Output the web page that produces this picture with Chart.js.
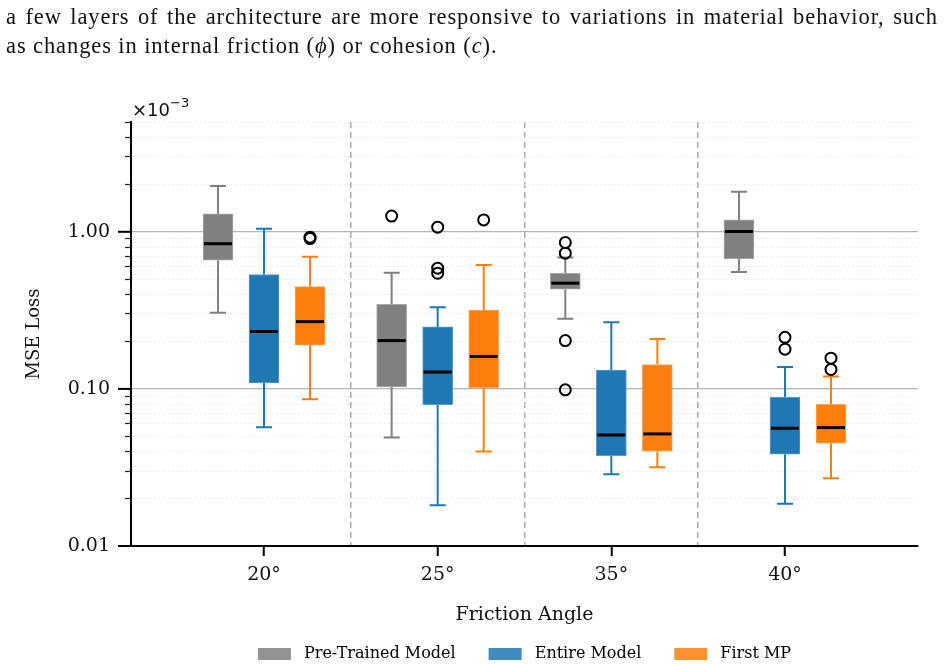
<!DOCTYPE html>
<html>
<head>
<meta charset="utf-8">
<script src="https://cdn.jsdelivr.net/npm/chart.js@4.4.1/dist/chart.umd.min.js"></script>
<style>
  html, body { margin: 0; padding: 0; background: #fff; overflow: hidden; }
  #wrap { position: relative; width: 944px; height: 664px; overflow: hidden; }
  #chart { position: absolute; left: 0; top: 0; }
  #para {
    position: absolute; left: 6px; top: 2px; width: 932px;
    font-family: "Liberation Serif", serif; font-size: 22.5px; line-height: 29px;
    letter-spacing: 0.9px; color: #111; white-space: nowrap;
  }
  .l1 { text-align: justify; text-align-last: justify; }
</style>
</head>
<body>
<div id="wrap">
  <canvas id="chart" width="944" height="672" style="width:944px;height:672px"></canvas>
  <div id="para">
    <div class="l1">a few layers of the architecture are more responsive to variations in material behavior, such</div>
    <div>as changes in internal friction (<i>ϕ</i>) or cohesion (<i>c</i>).</div>
  </div>
</div>
<script>
// friction angles on the x axis
const categories = ["20°", "25°", "35°", "40°"];
const modelNames = ["Pre-Trained Model", "Entire Model", "First MP"];

// MSE loss (×10^-3), one value per friction angle
const preLow  = [0.305, 0.049, 0.28, 0.554];
const preQ1   = [0.66, 0.103, 0.431, 0.673];
const preMed  = [0.84, 0.203, 0.471, 1.005];
const preQ3   = [1.30, 0.346, 0.545, 1.19];
const preHigh = [1.96, 0.548, 0.686, 1.80];
const preOut  = [[], [1.26], [0.855, 0.731, 0.203, 0.0986], []];

const entLow  = [0.057, 0.0182, 0.0286, 0.0186];
const entQ1   = [0.109, 0.0794, 0.0376, 0.0384];
const entMed  = [0.232, 0.128, 0.0509, 0.0562];
const entQ3   = [0.535, 0.248, 0.132, 0.0885];
const entHigh = [1.045, 0.331, 0.266, 0.138];
const entOut  = [[], [1.07, 0.587, 0.545], [], [0.213, 0.179]];

const mpLow  = [0.086, 0.0399, 0.0317, 0.027];
const mpQ1   = [0.19, 0.102, 0.0401, 0.0451];
const mpMed  = [0.268, 0.161, 0.0517, 0.0567];
const mpQ3   = [0.448, 0.317, 0.143, 0.0798];
const mpHigh = [0.693, 0.614, 0.208, 0.12];
const mpOut  = [[0.925, 0.905], [1.19], [], [0.157, 0.133]];

// y axis ticks
const yTickValues = [0.01, 0.02, 0.03, 0.04, 0.05, 0.06, 0.07, 0.08, 0.09,
                     0.1, 0.2, 0.3, 0.4, 0.5, 0.6, 0.7, 0.8, 0.9, 1, 2, 3, 4, 5];
const yMajorTicks = [0.01, 0.1, 1];
const yMajorLabels = ["0.01", "0.10", "1.00"];

const offsets = [-0.265, 0, 0.265];
const fills = ["#808080", "#1f77b4", "#ff7f0e"];
const edges = ["#a8a8a8", "#5a9bcb", "#ffa65a"];
const legendFills = ["#939393", "#408bbf", "#ff9232"];

const stats = [
  { low: preLow, q1: preQ1, med: preMed, q3: preQ3, high: preHigh, out: preOut },
  { low: entLow, q1: entQ1, med: entMed, q3: entQ3, high: entHigh, out: entOut },
  { low: mpLow, q1: mpQ1, med: mpMed, q3: mpQ3, high: mpHigh, out: mpOut }
];

const majorIndex = v => yMajorTicks.findIndex(m => Math.abs(m - v) < 1e-9);
const isHalf = v => v !== undefined && Math.abs(v - Math.round(v)) > 0.1;

const datasets = [];

stats.forEach((s, m) => {
  datasets.push({
    type: "bar",
    label: modelNames[m],
    data: categories.map((c, i) => ({ x: i + offsets[m], y: [s.q1[i], s.q3[i]] })),
    backgroundColor: fills[m],
    borderColor: edges[m],
    borderWidth: 1,
    borderSkipped: false,
    barThickness: 30,
    grouped: false,
    stats: s,
    whiskerColor: fills[m]
  });
});

stats.forEach((s, m) => {
  datasets.push({
    type: "scatter",
    label: modelNames[m] + " outliers",
    data: s.out.flatMap((list, i) => list.map(v => ({ x: i + offsets[m], y: v }))),
    pointRadius: 5.5,
    borderWidth: 2,
    borderColor: "#000",
    backgroundColor: "rgba(0,0,0,0)"
  });
});

const boxPlotExtras = {

  id: "boxPlotExtras",

  beforeDatasetsDraw(chart) {
    const { ctx, scales: { y } } = chart;
    chart.data.datasets.forEach((ds, di) => {
      if (!ds.stats) return;
      const meta = chart.getDatasetMeta(di);
      ctx.save();
      ctx.strokeStyle = ds.whiskerColor;
      ctx.lineWidth = 2;
      meta.data.forEach((bar, i) => {
        const x = bar.x;
        const pairs = [[ds.stats.q3[i], ds.stats.high[i]], [ds.stats.q1[i], ds.stats.low[i]]];
        pairs.forEach(([from, to]) => {
          const y0 = y.getPixelForValue(from);
          const y1 = y.getPixelForValue(to);
          ctx.beginPath();
          ctx.moveTo(x, y0);
          ctx.lineTo(x, y1);
          ctx.moveTo(x - 8, y1);
          ctx.lineTo(x + 8, y1);
          ctx.stroke();
        });
      });
      ctx.restore();
    });
  },

  afterDatasetsDraw(chart) {
    const { ctx, scales: { y } } = chart;
    chart.data.datasets.forEach((ds, di) => {
      if (!ds.stats) return;
      const meta = chart.getDatasetMeta(di);
      ctx.save();
      ctx.strokeStyle = "#000";
      ctx.lineWidth = 3;
      meta.data.forEach((bar, i) => {
        const yy = y.getPixelForValue(ds.stats.med[i]);
        ctx.beginPath();
        ctx.moveTo(bar.x - 14, yy);
        ctx.lineTo(bar.x + 14, yy);
        ctx.stroke();
      });
      ctx.restore();
    });
  },

  afterDraw(chart) {
    const { ctx, chartArea, scales: { y } } = chart;
    ctx.save();

    // longer major ticks on the log axis
    ctx.strokeStyle = "#000";
    ctx.lineWidth = 2;
    yMajorTicks.forEach(v => {
      const yy = y.getPixelForValue(v);
      ctx.beginPath();
      ctx.moveTo(chartArea.left - 13, yy);
      ctx.lineTo(chartArea.left, yy);
      ctx.stroke();
    });

    // offset text of the y axis
    ctx.fillStyle = "#111";
    ctx.textBaseline = "alphabetic";
    ctx.font = '18px "DejaVu Sans"';
    ctx.fillText("×10", chartArea.left + 1, chartArea.top - 6);
    const w = ctx.measureText("×10").width;
    ctx.font = '13px "DejaVu Sans"';
    ctx.fillText("−3", chartArea.left + 1 + w, chartArea.top - 15);
    ctx.restore();
  }

};

new Chart(document.getElementById("chart"), {

  type: "bar",

  data: { datasets: datasets },

  options: {

    responsive: false,
    animation: false,
    devicePixelRatio: 1,
    events: [],

    layout: {
      padding: { top: 122, right: 26, bottom: 0, left: 0 }
    },

    plugins: {

      tooltip: { enabled: false },

      legend: {
        position: "bottom",
        fullSize: false,
        labels: {
          boxWidth: 33,
          boxHeight: 12,
          padding: 33,
          color: "#222",
          font: { family: "DejaVu Serif", size: 16 },
          generateLabels: () => modelNames.map((name, m) => ({
            text: " " + name,
            fillStyle: legendFills[m],
            strokeStyle: legendFills[m],
            lineWidth: 0,
            hidden: false,
            datasetIndex: m
          }))
        }
      }

    },

    scales: {

      x: {
        type: "linear",
        offset: false,
        min: -0.766,
        max: 3.766,
        afterBuildTicks: scale => {
          scale.ticks = [0, 0.5, 1, 1.5, 2, 2.5, 3].map(v => ({ value: v }));
        },
        afterFit: scale => { scale.height = 67; },
        ticks: {
          autoSkip: false,
          maxRotation: 0,
          padding: 8,
          color: "#111",
          font: { family: "DejaVu Serif", size: 19 },
          callback: v => (isHalf(v) ? "" : categories[Math.round(v)])
        },
        grid: {
          offset: false,
          color: c => (c.tick && isHalf(c.tick.value) ? "#ababab" : "rgba(0,0,0,0)"),
          lineWidth: 1.5,
          tickLength: 10,
          tickWidth: 2,
          tickColor: c => (c.tick && isHalf(c.tick.value) ? "rgba(0,0,0,0)" : "#000")
        },
        border: {
          display: true,
          color: "#000",
          width: 2,
          dash: c => (c.tick && isHalf(c.tick.value) ? [6, 4] : [])
        },
        title: {
          display: true,
          text: "Friction Angle",
          color: "#111",
          font: { family: "DejaVu Serif", size: 19 },
          padding: { top: 0, bottom: -13 }
        }
      },

      y: {
        type: "logarithmic",
        min: 0.01,
        max: 5,
        afterBuildTicks: scale => {
          scale.ticks = yTickValues.map(v => ({ value: v }));
        },
        afterFit: scale => { scale.width = 131; },
        ticks: {
          autoSkip: false,
          padding: 15,
          color: "#111",
          font: { family: "DejaVu Serif", size: 19 },
          callback: v => {
            const k = majorIndex(v);
            return k >= 0 ? yMajorLabels[k] : "";
          }
        },
        grid: {
          color: c => (c.tick && majorIndex(c.tick.value) >= 0 ? "#b4b4b4" : "#e4e4e4"),
          lineWidth: c => (c.tick && majorIndex(c.tick.value) >= 0 ? 1.3 : 1),
          tickLength: 6,
          tickWidth: 1.2,
          tickColor: "#222"
        },
        border: {
          display: true,
          color: "#000",
          width: 2,
          dash: c => (c.tick && majorIndex(c.tick.value) < 0 ? [1.5, 3] : [])
        },
        title: {
          display: true,
          text: "MSE Loss",
          color: "#111",
          font: { family: "DejaVu Serif", size: 18 },
          padding: { top: 24, bottom: 0 }
        }
      }

    }

  },

  plugins: [boxPlotExtras]

});
</script>
</body>
</html>
